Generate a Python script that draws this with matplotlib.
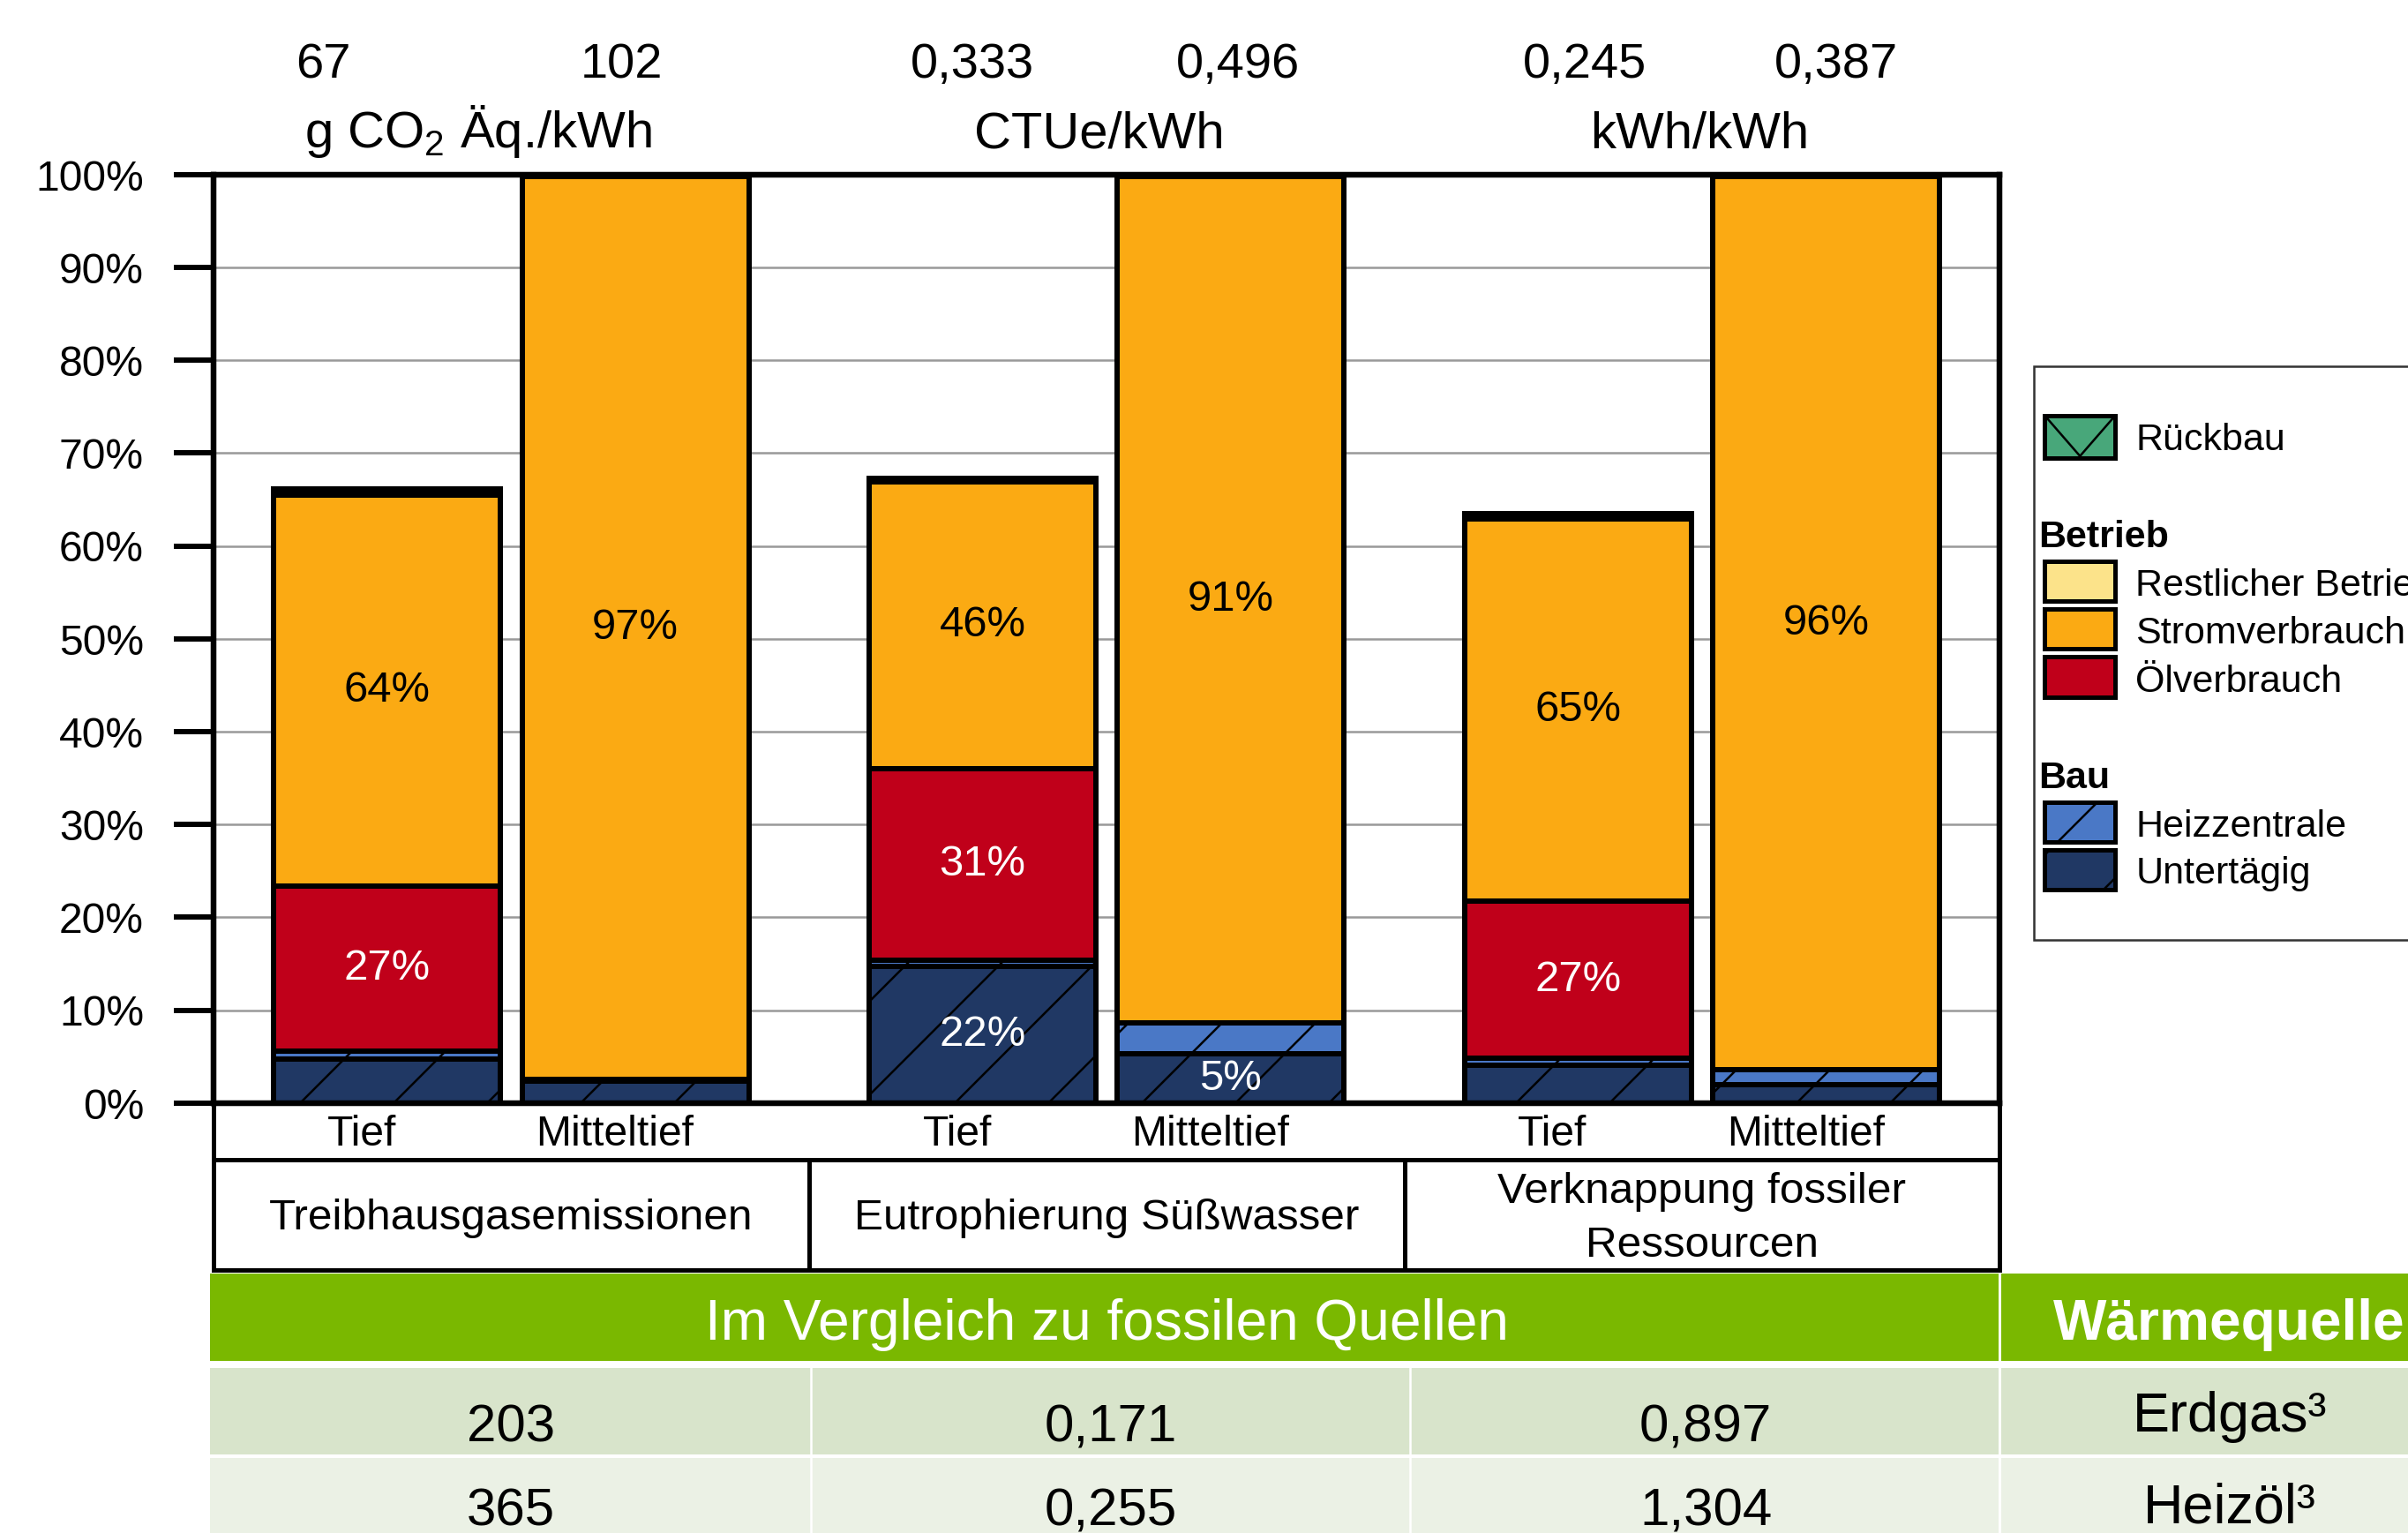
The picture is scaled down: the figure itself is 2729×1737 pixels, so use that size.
import numpy as np
import matplotlib
matplotlib.use("Agg")
import matplotlib.pyplot as plt
import matplotlib.transforms as mtransforms
from matplotlib.patches import Rectangle

# ---------------- data ----------------
categories = ["Treibhausgasemissionen", "Eutrophierung Süßwasser", "Verknappung fossiler\nRessourcen"]
depths = ["Tief", "Mitteltief"]
# bar order: (GHG Tief, GHG Mitteltief, Eutro Tief, Eutro Mitteltief, Fossil Tief, Fossil Mitteltief)
untertaegig = [4.7, 2.4, 14.7, 5.3, 4.1, 2.0]
heizzentrale = [0.9, 0.2, 0.7, 3.3, 0.7, 1.6]
oelverbrauch = [17.8, 0.0, 20.6, 0.0, 17.0, 0.0]
stromverbrauch = [42.1, 97.2, 30.9, 91.2, 41.1, 96.2]
restlicher_betrieb = [0.4, 0.1, 0.2, 0.1, 0.3, 0.1]
rueckbau = [0.2, 0.1, 0.2, 0.1, 0.3, 0.1]

labels_untertaegig = ["", "", "22%", "5%", "", ""]
labels_oel = ["27%", "", "31%", "", "27%", ""]
labels_strom = ["64%", "97%", "46%", "91%", "65%", "96%"]

top_values = ["67", "102", "0,333", "0,496", "0,245", "0,387"]
units = ["g CO$_2$ Äq./kWh", "CTUe/kWh", "kWh/kWh"]
yticks = list(range(0, 101, 10))

fossil_header = "Im Vergleich zu fossilen Quellen"
source_header = "Wärmequelle"
fossil_values = [["203", "0,171", "0,897"], ["365", "0,255", "1,304"]]
fossil_sources = ["Erdgas³", "Heizöl³"]

# ---------------- setup ----------------
W, H = 2729, 1737
DPI = 318


def PT(px):
    return px * 72.0 / DPI


plt.rcParams['font.family'] = ['Liberation Sans', 'DejaVu Sans']
plt.rcParams['mathtext.fontset'] = 'custom'
plt.rcParams['mathtext.rm'] = 'Liberation Sans'
plt.rcParams['mathtext.it'] = 'Liberation Sans:italic'
plt.rcParams['mathtext.bf'] = 'Liberation Sans:bold'
plt.rcParams['hatch.linewidth'] = PT(2.5)
plt.rcParams['hatch.color'] = 'black'

fig = plt.figure(figsize=((W + 0.3) / DPI, (H + 0.3) / DPI), dpi=DPI)
fig.patch.set_facecolor('white')

AX_L, AX_R, AX_T, AX_B = 242, 2266, 198, 1250
ax = fig.add_axes([AX_L / W, (H - AX_B) / H, (AX_R - AX_L) / W, (AX_B - AX_T) / H])

C_UNTER = '#203864'
C_HEIZ = '#4A78C6'
C_OEL = '#C0001A'
C_STROM = '#FBAA13'
C_REST = '#FCE38A'
C_RUECK = '#48A77A'

group_x = np.arange(len(categories))
offsets = [-0.2085, 0.2085]
bar_x = np.array([g + o for g in group_x for o in offsets])
BW = 0.381

series = [
    (untertaegig, C_UNTER, '/'),
    (heizzentrale, C_HEIZ, '/'),
    (oelverbrauch, C_OEL, None),
    (stromverbrauch, C_STROM, None),
    (restlicher_betrieb, C_REST, None),
    (rueckbau, C_RUECK, None),
]

bottom = np.zeros(len(bar_x))
bottoms = []
for vals, col, hatch in series:
    vals = np.array(vals, dtype=float)
    bottoms.append(bottom.copy())
    ax.bar(bar_x, vals, BW, bottom=bottom, color=col, edgecolor='black',
           linewidth=PT(6), hatch=hatch, zorder=3)
    bottom = bottom + vals

# segment labels
for idx, labs, tc in [(0, labels_untertaegig, 'white'), (2, labels_oel, 'white'), (3, labels_strom, 'black')]:
    vals = np.array(series[idx][0], dtype=float)
    for i, lab in enumerate(labs):
        if lab:
            ax.text(bar_x[i], bottoms[idx][i] + vals[i] / 2, lab, ha='center', va='center',
                    color=tc, fontsize=PT(49), zorder=6)

ax.set_xlim(-0.5, 2.5)
ax.set_ylim(0, 100)
ax.set_yticks(yticks)
ax.set_yticklabels([f"{v}%" for v in yticks])
ax.yaxis.grid(True, color='#999999', linewidth=PT(2.5))
ax.set_axisbelow(True)
ax.tick_params(axis='y', direction='out', length=PT(45), width=PT(6), pad=PT(34),
               labelsize=PT(48), colors='black')
ax.tick_params(axis='x', bottom=False, labelbottom=False)
for sp in ax.spines.values():
    sp.set_linewidth(PT(6.5))
    sp.set_color('black')
    sp.set_zorder(4)

# ---------------- overlay (pixel coordinates) ----------------
ov = fig.add_axes([0, 0, 1, 1])
ov.set_xlim(0, W)
ov.set_ylim(H, 0)
ov.axis('off')

blend = mtransforms.blended_transform_factory(ax.transData, ov.transData)

# depth labels under bars
depth_offsets = [-0.251, 0.174]
for g in group_x:
    for d, off in zip(depths, depth_offsets):
        ov.text(g + off, 1298, d, transform=blend, ha='center', va='baseline', fontsize=PT(48))

# category labels
for g, cat in zip(group_x, categories):
    lines = cat.split("\n")
    n = len(lines)
    for i, ln in enumerate(lines):
        ov.text(g, 1393 + (i - (n - 1) / 2) * 61, ln, transform=blend, ha='center',
                va='baseline', fontsize=PT(49.5))

# category box lines
LW_BOX = PT(5)
ov.plot([AX_L, AX_R], [1314, 1314], color='black', lw=LW_BOX, solid_capstyle='projecting')
ov.plot([AX_L, AX_R], [1439, 1439], color='black', lw=LW_BOX, solid_capstyle='projecting')
ov.plot([AX_L, AX_L], [AX_B, 1439], color='black', lw=LW_BOX, solid_capstyle='projecting')
ov.plot([AX_R, AX_R], [AX_B, 1439], color='black', lw=LW_BOX, solid_capstyle='projecting')
for xd in [0.5, 1.5]:
    ov.plot([xd, xd], [1314, 1439], color='black', lw=LW_BOX, transform=blend)

# top values and units
top_x = [366, 704, 1102, 1403, 1796, 2081]
for x, t in zip(top_x, top_values):
    ov.text(x, 88, t, ha='center', va='baseline', fontsize=PT(56))
unit_x = [542, 1246, 1926]
for x, u in zip(unit_x, units):
    ov.text(x, 167, u, ha='center', va='baseline', fontsize=PT(58))

# ---------------- comparison table ----------------
GREEN = '#7AB800'
ov.add_patch(Rectangle((238, 1443), W - 238 + 10, 99, facecolor=GREEN, edgecolor='none'))
ov.add_patch(Rectangle((238, 1550), W - 238 + 10, 98, facecolor='#D8E4CB', edgecolor='none'))
ov.add_patch(Rectangle((238, 1652), W - 238 + 10, 100, facecolor='#EBF1E5', edgecolor='none'))
ov.plot([2266, 2266], [1443, H + 5], color='white', lw=PT(3))
for xv in [919, 1598]:
    ov.plot([xv, xv], [1550, H + 5], color='white', lw=PT(2.5))

ov.text(1254, 1518, fossil_header, ha='center', va='baseline', color='white', fontsize=PT(64))
ov.text(2327, 1518, source_header, ha='left', va='baseline', color='white',
        fontsize=PT(64), fontweight='bold')

col_x = [579, 1259, 1933]
row_base = [1633, 1728]
src_base = [1622, 1725]
for r, row in enumerate(fossil_values):
    for x, v in zip(col_x, row):
        ov.text(x, row_base[r], v, ha='center', va='baseline', fontsize=PT(60))
    ov.text(2527, src_base[r], fossil_sources[r], ha='center', va='baseline', fontsize=PT(63))

# ---------------- legend ----------------
ov.add_patch(Rectangle((2305, 415), 600, 650, facecolor='white', edgecolor='#333333', lw=PT(2.5)))
PX0, PX1 = 2317, 2397
TX = 2420
leg_fs = PT(43)


def leg_patch(y0, y1, col, hatch=None):
    ov.add_patch(Rectangle((PX0, y0), PX1 - PX0, y1 - y0, facecolor=col, edgecolor='black',
                           lw=PT(5), hatch=hatch))


# Rückbau
leg_patch(471, 519, C_RUECK)
ov.plot([PX0, (PX0 + PX1) / 2, PX1], [471, 517, 471], color='black', lw=PT(2.5))
ov.text(TX, 510, "Rückbau", ha='left', va='baseline', fontsize=leg_fs)

ov.text(2310, 620, "Betrieb", ha='left', va='baseline', fontsize=leg_fs, fontweight='bold')
leg_patch(636, 681, C_REST)
ov.text(TX, 675, "Restlicher Betrieb", ha='left', va='baseline', fontsize=leg_fs)
leg_patch(690, 735, C_STROM)
ov.text(TX, 729, "Stromverbrauch", ha='left', va='baseline', fontsize=leg_fs)
leg_patch(744, 790, C_OEL)
ov.text(TX, 784, "Ölverbrauch", ha='left', va='baseline', fontsize=leg_fs)

ov.text(2310, 893, "Bau", ha='left', va='baseline', fontsize=leg_fs, fontweight='bold')
leg_patch(909, 954, C_HEIZ, '/')
ov.text(TX, 948, "Heizzentrale", ha='left', va='baseline', fontsize=leg_fs)
leg_patch(963, 1008, C_UNTER, '/')
ov.text(TX, 1001, "Untertägig", ha='left', va='baseline', fontsize=leg_fs)

fig.savefig("out.png", dpi=DPI, facecolor='white')
